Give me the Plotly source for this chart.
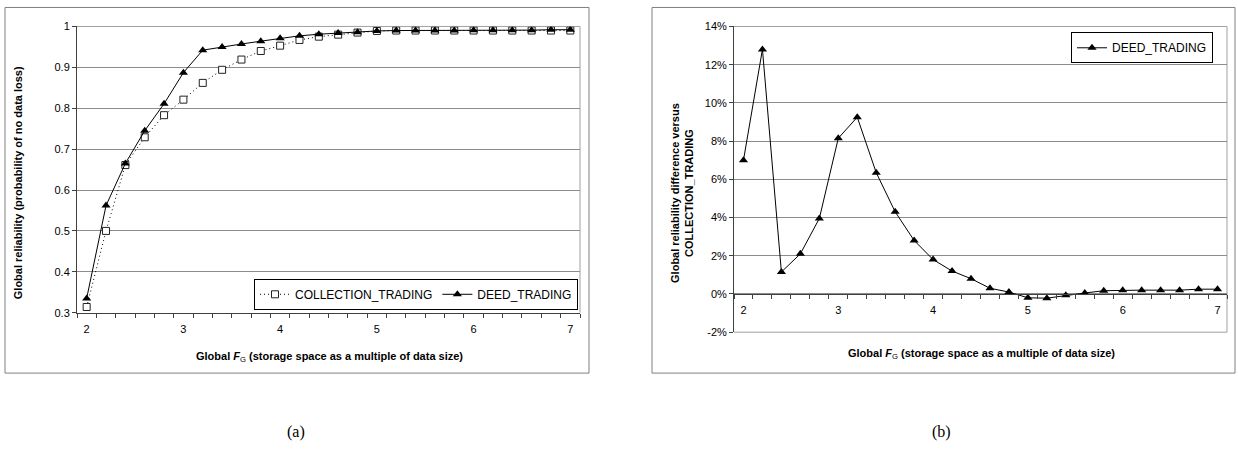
import plotly.graph_objects as go

# ---- data ----
fg = [2.0, 2.2, 2.4, 2.6, 2.8, 3.0, 3.2, 3.4, 3.6, 3.8, 4.0, 4.2, 4.4,
      4.6, 4.8, 5.0, 5.2, 5.4, 5.6, 5.8, 6.0, 6.2, 6.4, 6.6, 6.8, 7.0]
collection_trading = [0.314, 0.500, 0.661, 0.729, 0.783, 0.821, 0.862, 0.894,
                      0.919, 0.940, 0.953, 0.967, 0.975, 0.980, 0.985, 0.989,
                      0.990, 0.990, 0.990, 0.990, 0.990, 0.990, 0.990, 0.990,
                      0.990, 0.990]
deed_trading = [0.335, 0.562, 0.665, 0.745, 0.811, 0.887, 0.942, 0.950,
                0.957, 0.964, 0.971, 0.977, 0.981, 0.984, 0.986, 0.989,
                0.990, 0.990, 0.990, 0.990, 0.991, 0.991, 0.991, 0.991,
                0.992, 0.992]
diff_pct = [7.0, 12.8, 1.15, 2.1, 3.95, 8.15, 9.25, 6.35, 4.3, 2.8, 1.8,
            1.2, 0.8, 0.3, 0.1, -0.2, -0.22, -0.07, 0.05, 0.17, 0.2, 0.2,
            0.2, 0.2, 0.25, 0.25]

x_ticks = [2, 3, 4, 5, 6, 7]
left_y_ticks = [0.3, 0.4, 0.5, 0.6, 0.7, 0.8, 0.9, 1.0]
left_y_text = ["0.3", "0.4", "0.5", "0.6", "0.7", "0.8", "0.9", "1"]
right_y_ticks = [-2, 0, 2, 4, 6, 8, 10, 12, 14]
right_y_text = ["-2%", "0%", "2%", "4%", "6%", "8%", "10%", "12%", "14%"]

# ---- layout helpers ----
W, H = 1238, 456
def px(x):
    return x / W
def py(y):
    return 1 - y / H

FONT = "Liberation Sans, Arial, sans-serif"
AX = "#404040"
GRID = "#8c8c8c"

fig = go.Figure()

fig.add_trace(go.Scatter(
    x=fg, y=collection_trading, name="COLLECTION_TRADING", mode="lines+markers",
    line=dict(color="black", width=1, dash="1px,3px"),
    marker=dict(symbol="square", size=7, color="white",
                line=dict(color="#222222", width=1)),
    xaxis="x", yaxis="y", legend="legend"))
fig.add_trace(go.Scatter(
    x=fg, y=deed_trading, name="DEED_TRADING", mode="lines+markers",
    line=dict(color="black", width=1),
    marker=dict(symbol="triangle-up", size=8, color="black"),
    xaxis="x", yaxis="y", legend="legend"))
fig.add_trace(go.Scatter(
    x=fg, y=diff_pct, name="DEED_TRADING", mode="lines+markers",
    line=dict(color="black", width=1),
    marker=dict(symbol="triangle-up", size=8, color="black"),
    xaxis="x2", yaxis="y2", legend="legend2"))

tickfont = dict(family=FONT, size=11, color="black")

y1_dom = [py(315), py(21)]
y2_dom = [py(335), py(21)]
y2_range = [-2, 14]
zero_pos = y2_dom[0] + (0 - y2_range[0]) / (y2_range[1] - y2_range[0]) * (y2_dom[1] - y2_dom[0])

common_x = dict(range=[1.9, 7.1], tickvals=x_ticks, ticks="outside", ticklen=6,
                tickcolor="rgba(0,0,0,0)", showgrid=False, zeroline=False,
                showline=True, linecolor=AX, linewidth=1, tickfont=tickfont,
                minor=dict(tick0=1.9, dtick=0.2, ticks="outside", ticklen=4,
                           tickcolor=AX, showgrid=False))

fig.update_layout(
    width=W, height=H, margin=dict(l=0, r=0, t=0, b=0),
    paper_bgcolor="white", plot_bgcolor="white",
    showlegend=True,
    xaxis=dict(domain=[px(77), px(580)], anchor="y", **common_x),
    yaxis=dict(domain=y1_dom, range=[0.3, 1.0], anchor="x",
               tickvals=left_y_ticks, ticktext=left_y_text,
               ticks="outside", ticklen=4, tickcolor=AX,
               showgrid=True, gridcolor=GRID, gridwidth=1, zeroline=False,
               showline=True, linecolor=AX, linewidth=1, tickfont=tickfont),
    xaxis2=dict(domain=[px(734), px(1227)], anchor="free", position=zero_pos,
                **common_x),
    yaxis2=dict(domain=y2_dom, range=y2_range, anchor="x2",
                tickvals=right_y_ticks, ticktext=right_y_text,
                ticks="outside", ticklen=4, tickcolor=AX,
                showgrid=True, gridcolor=GRID, gridwidth=1, zeroline=False,
                showline=True, linecolor=AX, linewidth=1, tickfont=tickfont),
    legend=dict(orientation="h", x=px(578), xanchor="right", y=py(312),
                yanchor="bottom", bordercolor="black", borderwidth=1,
                bgcolor="white", font=dict(family=FONT, size=12, color="black"),
                itemwidth=30, tracegroupgap=0),
    legend2=dict(orientation="h", x=px(1213), xanchor="right", y=py(27),
                 yanchor="top", bordercolor="black", borderwidth=1,
                 bgcolor="white", font=dict(family=FONT, size=12, color="black"),
                 itemwidth=30, tracegroupgap=0),
)

shapes = []
# plot-area borders (top and right edges, light gray)
for xr, yr in (("x domain", "y domain"), ("x2 domain", "y2 domain")):
    shapes.append(dict(type="line", xref=xr, yref=yr, x0=0, x1=1, y0=1, y1=1,
                       line=dict(color="#a0a0a0", width=1), layer="below"))
    shapes.append(dict(type="line", xref=xr, yref=yr, x0=1, x1=1, y0=0, y1=1,
                       line=dict(color="#a0a0a0", width=1), layer="below"))
# bottom edge of right plot area
shapes.append(dict(type="line", xref="x2 domain", yref="y2 domain", x0=0, x1=1,
                   y0=0, y1=0, line=dict(color="#a0a0a0", width=1), layer="below"))
# outer chart frames
shapes.append(dict(type="rect", xref="paper", yref="paper",
                   x0=px(5), x1=px(589), y0=py(377), y1=py(1.5),
                   line=dict(color="#808080", width=1)))
shapes.append(dict(type="rect", xref="paper", yref="paper",
                   x0=px(652), x1=px(1235), y0=py(377), y1=py(1.5),
                   line=dict(color="#808080", width=1)))
fig.update_layout(shapes=shapes)

title_font = dict(family=FONT, size=11, color="black")
xtitle = "<b>Global </b><b><i>F</i></b><sub>G</sub><b> (storage space as a multiple of data size)</b>"
ann = [
    dict(text=xtitle, x=px(329), y=py(360), xref="paper", yref="paper",
         xanchor="center", yanchor="middle", showarrow=False, font=title_font),
    dict(text=xtitle, x=px(981), y=py(357), xref="paper", yref="paper",
         xanchor="center", yanchor="middle", showarrow=False, font=title_font),
    dict(text="<b>Global reliability (probability of no data loss)</b>",
         x=px(18), y=py(182), xref="paper", yref="paper", textangle=-90,
         xanchor="center", yanchor="middle", showarrow=False, font=title_font),
    dict(text="<b>Global reliability difference versus<br>COLLECTION_TRADING</b>",
         x=px(682), y=py(192), xref="paper", yref="paper", textangle=-90,
         xanchor="center", yanchor="middle", showarrow=False, font=title_font),
    dict(text="(a)", x=px(296), y=py(437), xref="paper", yref="paper",
         xanchor="center", yanchor="middle", showarrow=False,
         font=dict(family="Liberation Serif, Times New Roman, serif", size=16, color="black")),
    dict(text="(b)", x=px(941), y=py(437), xref="paper", yref="paper",
         xanchor="center", yanchor="middle", showarrow=False,
         font=dict(family="Liberation Serif, Times New Roman, serif", size=16, color="black")),
]
fig.update_layout(annotations=ann)

fig.write_html("out.html")
